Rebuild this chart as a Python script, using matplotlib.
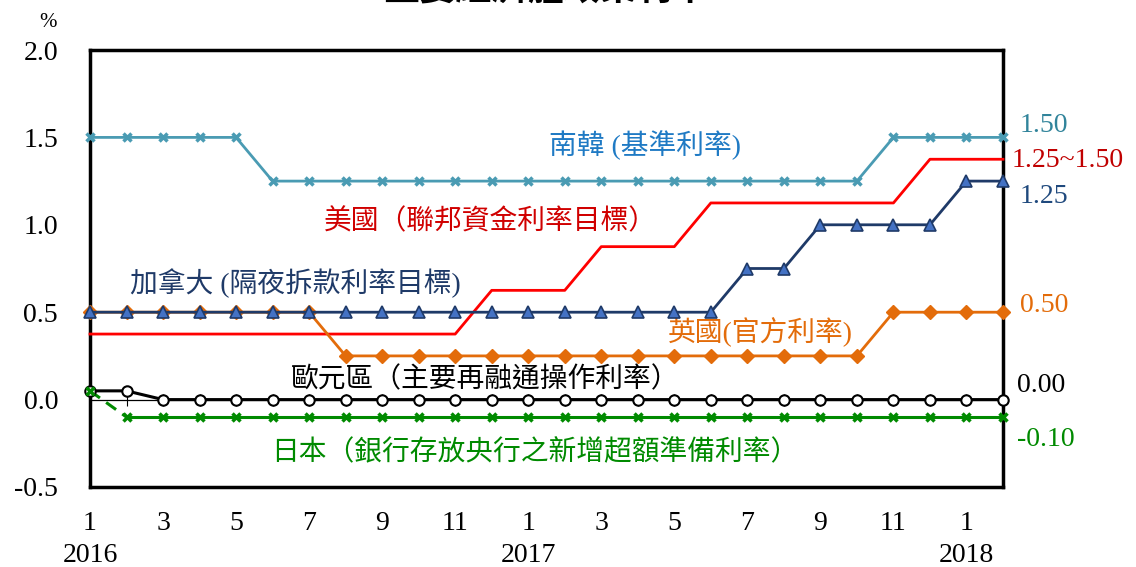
import matplotlib
matplotlib.use("Agg")
import matplotlib.pyplot as plt
import matplotlib.transforms as mtrans
import numpy as np

plt.rcParams['font.family'] = ['Liberation Serif', 'Noto Sans CJK TC']

# Monthly policy rates, Jan 2016 - Feb 2018
months = list(range(1, 13)) + list(range(1, 13)) + [1, 2]
tick_labels = ['1', '3', '5', '7', '9', '11', '1', '3', '5', '7', '9', '11', '1']
year_labels = ['2016', '2017', '2018']

korea = [1.50] * 5 + [1.25] * 17 + [1.50] * 4
usa = [0.375] * 11 + [0.625] * 3 + [0.875] * 3 + [1.125] * 6 + [1.375] * 3
canada = [0.50] * 18 + [0.75] * 2 + [1.00] * 4 + [1.25] * 2
uk = [0.50] * 7 + [0.25] * 15 + [0.50] * 4
euro = [0.05] * 2 + [0.00] * 24
japan = [0.05] + [-0.10] * 25

end_labels = ['1.50', '1.25~1.50', '1.25', '0.50', '0.00', '-0.10']

c_korea = '#4A9BB3'
c_usa = '#FF0000'
c_canada = '#1F3A68'
c_uk = '#E36C0A'
c_euro = '#000000'
c_japan = '#008A00'

x = np.arange(len(months))

fig = plt.figure(figsize=(11.36, 5.67), dpi=100)
ax = fig.add_axes([90 / 1136, 80 / 567, 913 / 1136, 437 / 567])

ax.set_xlim(0, len(months) - 1)
ax.set_ylim(-0.5, 2.0)

# zero line with month ticks crossing it
ax.axhline(0, color='black', lw=0.9, zorder=1)
zx = ax.secondary_xaxis(0.2)
zx.set_xticks(x)
zx.set_xticklabels([])
zx.tick_params(direction='inout', length=8, width=0.8)
zx.spines['bottom'].set_visible(False)

ax.plot(x, korea, color=c_korea, lw=2, marker='x', ms=6, mew=2.5, clip_on=False, zorder=5)
ax.plot(x, usa, color=c_usa, lw=2, clip_on=False, zorder=4)
ax.plot(x, uk, color=c_uk, lw=2, marker='D', ms=7, mfc=c_uk, mec=c_uk, clip_on=False, zorder=5)
ax.plot(x, canada, color=c_canada, lw=2, marker='^', ms=8, mfc='#4472C4', mec=c_canada, mew=1.2,
        clip_on=False, zorder=6)
ax.plot(x, euro, color=c_euro, lw=2.2, marker='o', ms=7.5, mfc='white', mec='black', mew=1.5,
        clip_on=False, zorder=6)
ax.plot(x[:2], japan[:2], color=c_japan, lw=2.2, ls=(0, (4, 2.5)), clip_on=False, zorder=5)
ax.plot(x[1:], japan[1:], color=c_japan, lw=2.2, clip_on=False, zorder=5)
ax.plot(x, japan, ls='none', marker='x', ms=6, mew=2.5, color=c_japan, clip_on=False, zorder=7)

for s in ax.spines.values():
    s.set_linewidth(2.5)

yt = np.arange(-0.5, 2.01, 0.5)
ax.set_yticks(yt)
ax.set_yticklabels([f'{v:.1f}' for v in yt], fontsize=20)
ax.tick_params(axis='y', length=0, pad=23)
ax.set_xticks(x[::2])
ax.set_xticklabels(tick_labels, fontsize=20)
ax.tick_params(axis='x', length=0, pad=17)

# year labels beneath the January ticks
year_tr = mtrans.offset_copy(ax.get_xaxis_transform(), fig=fig, x=0, y=-56, units='dots')
for xi, yl in zip([0, 12, 24], year_labels):
    ax.text(xi, 0, yl, transform=year_tr, fontsize=20, ha='center', va='top')

ax.text(0, 1.0, '%', transform=mtrans.offset_copy(ax.transAxes, fig=fig, x=-42, y=18, units='dots'),
        fontsize=15, ha='center', va='bottom')

# series names inside the plot
lab_kw = dict(fontsize=20, ha='center', va='center')
ax.text(15.2, 1.453, '南韓 (基準利率)', color='#1F7AC4', **lab_kw)
ax.text(10.95, 1.018, '美國（聯邦資金利率目標）', color='#D00000', **lab_kw)
ax.text(5.61, 0.664, '加拿大 (隔夜拆款利率目標)', color=c_canada, **lab_kw)
ax.text(18.35, 0.383, '英國(官方利率)', color=c_uk, **lab_kw)
ax.text(10.82, 0.114, '歐元區（主要再融通操作利率）', color='black', **lab_kw)
ax.text(12.19, -0.303, '日本（銀行存放央行之新增超額準備利率）', color=c_japan, **lab_kw)

# latest values at the right edge
end_y = [1.567, 1.367, 1.161, 0.538, 0.080, -0.229]
end_x = [1.0186, 1.0099, 1.0186, 1.0186, 1.0153, 1.0153]
end_c = ['#31849B', '#C00000', '#1F497D', c_uk, 'black', c_japan]
for lx, ly, txt, col in zip(end_x, end_y, end_labels, end_c):
    ax.text(lx, ly, txt, transform=ax.get_yaxis_transform(), color=col,
            fontsize=20, ha='left', va='center', clip_on=False)

fig.text(0.48, 1 - 8 / 567, '主要經濟體政策利率', fontsize=26, ha='center', va='bottom',
         fontweight='bold')

fig.savefig('out.png', dpi=100)
